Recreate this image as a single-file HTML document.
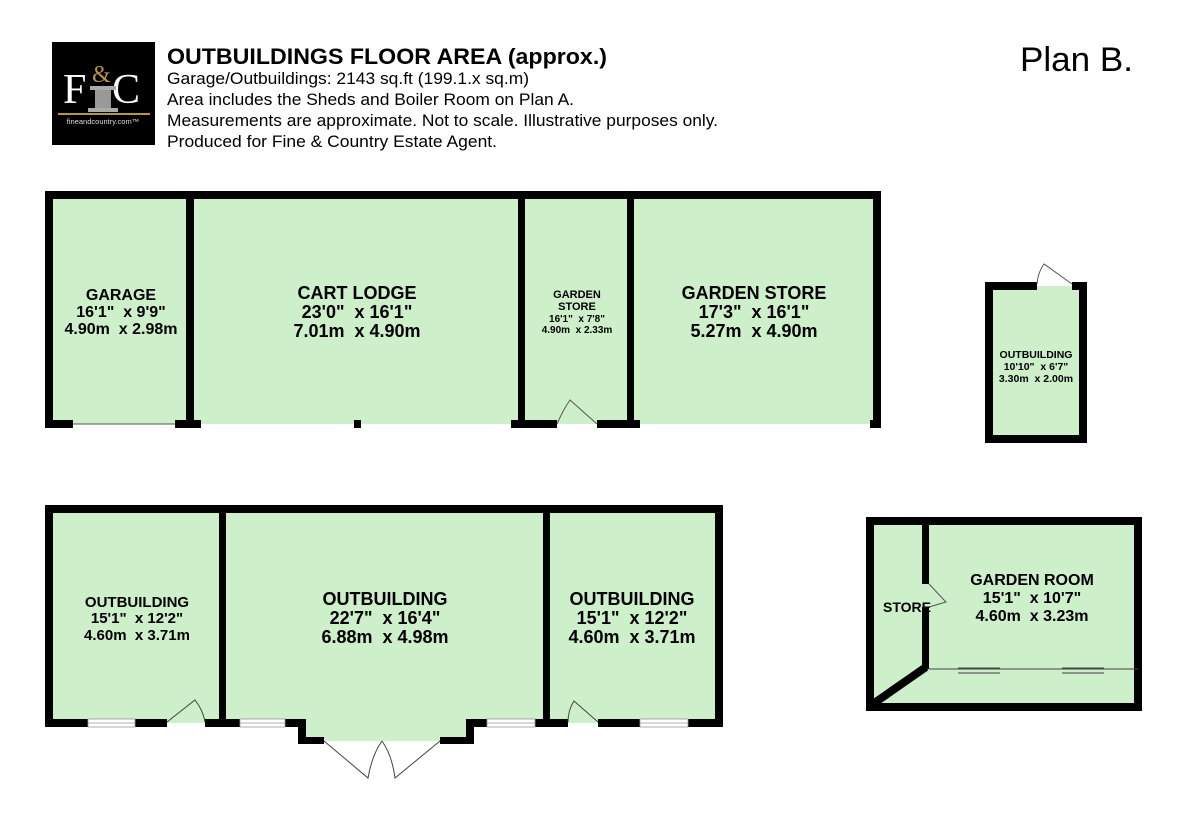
<!DOCTYPE html>
<html><head><meta charset="utf-8"><style>
body{margin:0;background:#fff;width:1200px;height:813px;overflow:hidden;font-family:"Liberation Sans",sans-serif}
svg{position:absolute;left:0;top:0}
</style></head><body>
<svg width="1200" height="813" viewBox="0 0 1200 813" font-family="Liberation Sans, sans-serif">
<rect x="52" y="42" width="103" height="103" fill="#000"/>
<text x="63" y="103" font-family="Liberation Serif, serif" font-size="42" fill="#fff">F</text>
<text x="112" y="103" font-family="Liberation Serif, serif" font-size="42" fill="#fff">C</text>
<text x="92" y="82" font-family="Liberation Serif, serif" font-size="24" fill="#b8963e">&amp;</text>
<rect x="90" y="86" width="26" height="4" fill="#aaa"/>
<rect x="95" y="90" width="16" height="18" fill="#999"/>
<rect x="88" y="108" width="30" height="4" fill="#aaa"/>
<rect x="58" y="113" width="92" height="2" fill="#b8963e"/>
<text x="103" y="124" font-size="7.5" fill="#ddd" text-anchor="middle">fineandcountry.com™</text>
<text x="167" y="64" font-size="22" font-weight="bold" fill="#000" textLength="440" lengthAdjust="spacingAndGlyphs">OUTBUILDINGS FLOOR AREA (approx.)</text>
<g font-size="17" fill="#000">
<text x="167" y="84" textLength="362" lengthAdjust="spacingAndGlyphs">Garage/Outbuildings: 2143 sq.ft (199.1.x sq.m)</text>
<text x="167" y="105" textLength="407" lengthAdjust="spacingAndGlyphs">Area includes the Sheds and Boiler Room on Plan A.</text>
<text x="167" y="126" textLength="551" lengthAdjust="spacingAndGlyphs">Measurements are approximate. Not to scale. Illustrative purposes only.</text>
<text x="167" y="147" textLength="330" lengthAdjust="spacingAndGlyphs">Produced for Fine &amp; Country Estate Agent.</text>
</g>
<text x="1020" y="71" font-size="34" fill="#000" textLength="113" lengthAdjust="spacingAndGlyphs">Plan B.</text>

<g fill="#cdefca">
<rect x="49" y="195" width="828" height="229"/>
<rect x="989" y="286" width="94" height="153"/>
<rect x="49" y="509" width="670" height="214"/>
<rect x="302" y="719" width="168" height="22"/>
<rect x="870" y="521" width="268" height="186"/>
</g>

<g fill="#000">
<rect x="45" y="191" width="836" height="8"/>
<rect x="45" y="191" width="8" height="237"/>
<rect x="873" y="191" width="8" height="237"/>
<rect x="186" y="191" width="8" height="237"/>
<rect x="518" y="191" width="7" height="237"/>
<rect x="627" y="191" width="7" height="237"/>
<rect x="45" y="420" width="28" height="8"/>
<rect x="175" y="420" width="26" height="8"/>
<rect x="354" y="420" width="7" height="8"/>
<rect x="511" y="420" width="46" height="8"/>
<rect x="597" y="420" width="43" height="8"/>
<rect x="870" y="420" width="11" height="8"/>
</g>
<line x1="73" y1="424" x2="175" y2="424" stroke="#555" stroke-width="1"/>
<path d="M597 424 L570 400 Q563 410 557 424" fill="none" stroke="#555" stroke-width="1"/>

<g fill="#000">
<rect x="985" y="282" width="8" height="161"/>
<rect x="1079" y="282" width="8" height="161"/>
<rect x="985" y="435" width="102" height="8"/>
<rect x="985" y="282" width="52" height="8"/>
<rect x="1072" y="282" width="15" height="8"/>
</g>
<path d="M1072 284 L1044 264 Q1038 272 1037 284" fill="none" stroke="#555" stroke-width="1"/>

<g fill="#000">
<rect x="45" y="505" width="678" height="8"/>
<rect x="45" y="505" width="8" height="222"/>
<rect x="715" y="505" width="8" height="222"/>
<rect x="219" y="505" width="7" height="222"/>
<rect x="543" y="505" width="7" height="222"/>
<rect x="45" y="719" width="43" height="8"/>
<rect x="135" y="719" width="32" height="8"/>
<rect x="205" y="719" width="35" height="8"/>
<rect x="285" y="719" width="21" height="8"/>
<rect x="298" y="719" width="8" height="25"/>
<rect x="298" y="737" width="26" height="7"/>
<rect x="440" y="737" width="33" height="7"/>
<rect x="466" y="719" width="8" height="25"/>
<rect x="466" y="719" width="21" height="8"/>
<rect x="535" y="719" width="33" height="8"/>
<rect x="598" y="719" width="42" height="8"/>
<rect x="688" y="719" width="35" height="8"/>
</g>
<g fill="#fff" stroke="#999" stroke-width="0.8">
<rect x="88" y="719" width="47" height="8"/>
<rect x="240" y="719" width="45" height="8"/>
<rect x="487" y="719" width="48" height="8"/>
<rect x="640" y="719" width="48" height="8"/>
</g>
<g stroke="#999" stroke-width="0.8"><line x1="88" y1="723" x2="135" y2="723"/><line x1="240" y1="723" x2="285" y2="723"/><line x1="487" y1="723" x2="535" y2="723"/><line x1="640" y1="723" x2="688" y2="723"/></g>
<g fill="none" stroke="#444" stroke-width="1">
<path d="M167 722 L195 700 Q203 710 205 722"/>
<path d="M598 722 L574 701 Q568 710 568 722"/>
<path d="M324 741 L368 778 Q372 755 382 741"/>
<path d="M440 741 L395 778 Q392 755 382 741"/>
</g>

<g fill="#000">
<rect x="866" y="517" width="276" height="8"/>
<rect x="866" y="517" width="8" height="194"/>
<rect x="1134" y="517" width="8" height="194"/>
<rect x="866" y="703" width="276" height="8"/>
<rect x="922" y="517" width="7" height="67"/>
<rect x="922" y="607" width="7" height="62"/>
</g>
<line x1="926" y1="667" x2="870" y2="706" stroke="#000" stroke-width="8"/>
<path d="M929 584 L946 602 L929 607" fill="none" stroke="#555" stroke-width="1"/>
<g stroke="#444" stroke-width="1"><line x1="929" y1="669" x2="1138" y2="669"/><line x1="958" y1="673" x2="1000" y2="673"/><line x1="1062" y1="673" x2="1104" y2="673"/><line x1="958" y1="668" x2="1000" y2="668"/><line x1="1062" y1="668" x2="1104" y2="668"/></g>

<g fill="#000" font-weight="bold" text-anchor="middle">
<g font-size="16"><text x="121" y="300">GARAGE</text><text x="121" y="317">16'1"&#160; x 9'9"</text><text x="121" y="334">4.90m&#160; x 2.98m</text></g>
<g font-size="18"><text x="357" y="299">CART LODGE</text><text x="357" y="318">23'0"&#160; x 16'1"</text><text x="357" y="337">7.01m&#160; x 4.90m</text></g>
<g font-size="11"><text x="577" y="298">GARDEN</text><text x="577" y="310">STORE</text></g>
<g font-size="10"><text x="577" y="322">16'1"&#160; x 7'8"</text><text x="577" y="333">4.90m&#160; x 2.33m</text></g>
<g font-size="18"><text x="754" y="299">GARDEN STORE</text><text x="754" y="318">17'3"&#160; x 16'1"</text><text x="754" y="337">5.27m&#160; x 4.90m</text></g>
<g font-size="10.5"><text x="1036" y="358">OUTBUILDING</text><text x="1036" y="370">10'10"&#160; x 6'7"</text><text x="1036" y="382">3.30m&#160; x 2.00m</text></g>
<g font-size="15"><text x="137" y="607">OUTBUILDING</text><text x="137" y="623">15'1"&#160; x 12'2"</text><text x="137" y="640">4.60m&#160; x 3.71m</text></g>
<g font-size="18"><text x="385" y="605">OUTBUILDING</text><text x="385" y="624">22'7"&#160; x 16'4"</text><text x="385" y="643">6.88m&#160; x 4.98m</text></g>
<g font-size="18"><text x="632" y="605">OUTBUILDING</text><text x="632" y="624">15'1"&#160; x 12'2"</text><text x="632" y="643">4.60m&#160; x 3.71m</text></g>
<g font-size="16"><text x="1032" y="585">GARDEN ROOM</text><text x="1032" y="603">15'1"&#160; x 10'7"</text><text x="1032" y="621">4.60m&#160; x 3.23m</text></g>
<text x="907" y="612" font-size="14">STORE</text>
</g>
</svg>
</body></html>
